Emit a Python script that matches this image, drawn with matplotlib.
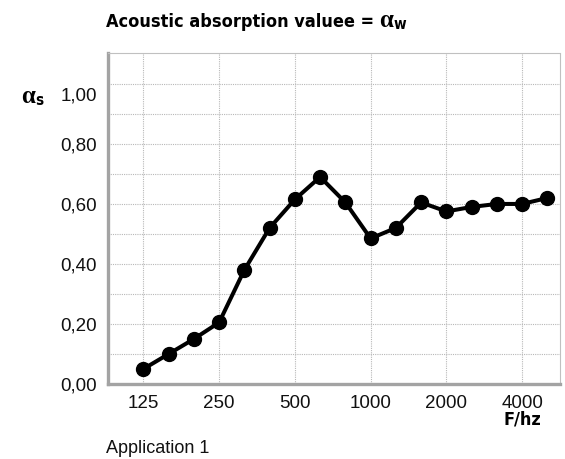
import numpy as np
import matplotlib
matplotlib.use('Agg')
import matplotlib.pyplot as plt
import matplotlib.transforms as mtransforms

# third-octave bands and measured absorption coefficients
freqs = [125, 160, 200, 250, 315, 400, 500, 630, 800, 1000,
         1250, 1600, 2000, 2500, 3150, 4000, 5000]
alpha_s = [0.05, 0.10, 0.15, 0.205, 0.38, 0.52, 0.615, 0.69, 0.605, 0.485,
           0.52, 0.605, 0.575, 0.59, 0.60, 0.60, 0.62]
octave_labels = [125, 250, 500, 1000, 2000, 4000]
y_ticks = [0.0, 0.2, 0.4, 0.6, 0.8, 1.0]
y_ticklabels = ['0,00', '0,20', '0,40', '0,60', '0,80', '1,00']

reg_font = ['Liberation Sans', 'DejaVu Sans']
bold_font = dict(family='DejaVu Sans', stretch='condensed', weight='bold')
greek_font = dict(family=['Liberation Serif', 'DejaVu Serif'], style='normal',
                  weight='bold')

W, H = 565, 459
fig = plt.figure(figsize=(W/100, H/100), dpi=100)
ax = fig.add_axes([108/W, 75/H, 452/W, 331/H])

x = np.arange(len(freqs))
ax.plot(x, alpha_s, color='black', lw=2.9, marker='o', ms=10,
        markerfacecolor='black', markeredgecolor='black', zorder=3)

ax.set_xlim(-1.4, 16.5)
ax.set_ylim(0, 1.103)

ax.set_xticks([freqs.index(f) for f in octave_labels])
ax.set_xticklabels([str(f) for f in octave_labels])
ax.set_yticks(y_ticks)
ax.set_yticklabels(y_ticklabels)
ax.set_yticks(np.arange(0.1, 1.1, 0.2), minor=True)

ax.tick_params(axis='both', which='both', length=0, labelsize=13.5,
               colors='#111111')
ax.tick_params(axis='y', pad=8)
ax.tick_params(axis='x', pad=8)
for lab in ax.get_xticklabels() + ax.get_yticklabels():
    lab.set_family(reg_font)

# the top label sits a bit lower than its gridline
top_lab = ax.get_yticklabels()[-1]
top_lab.set_transform(top_lab.get_transform() +
                      mtransforms.ScaledTranslation(0, -10/100, fig.dpi_scale_trans))

ax.grid(True, which='both', color='#b8b8b8', lw=0.8, ls=(0, (1, 1)))
ax.set_axisbelow(True)

for side in ['left', 'bottom']:
    ax.spines[side].set_color('#a3a3a3')
    ax.spines[side].set_linewidth(2.4)
for side in ['top', 'right']:
    ax.spines[side].set_color('#c0c0c0')
    ax.spines[side].set_linewidth(0.8)
    ax.spines[side].set_linestyle((0, (1, 1)))

renderer = fig.canvas.get_renderer()


def text_run(x0, y0, pieces):
    """Place text pieces one after another on a baseline (pixel coords)."""
    xc = x0
    for s, size, props, dy, gap in pieces:
        t = fig.text(xc/W, 1 - (y0 + dy)/H, s, fontsize=size, va='baseline',
                     ha='left', **props)
        bb = t.get_window_extent(renderer)
        xc = bb.x1 + gap


text_run(106, 26.7, [('Acoustic absorption valuee =', 13, bold_font, 0, 5),
                     ('\u03b1', 18, greek_font, 0, 0),
                     ('w', 11, bold_font, 2, 0)])
text_run(21, 103, [('\u03b1', 18, greek_font, 0, 0),
                   ('s', 11, bold_font, 2, 0)])

fig.text(541/W, 1 - 424.5/H, 'F/hz', fontsize=13, va='baseline', ha='right',
         **bold_font)
fig.text(106/W, 1 - 453/H, 'Application 1', family=reg_font,
         fontsize=13, va='baseline', ha='left', color='#111111')

fig.savefig('out.png', dpi=100)
